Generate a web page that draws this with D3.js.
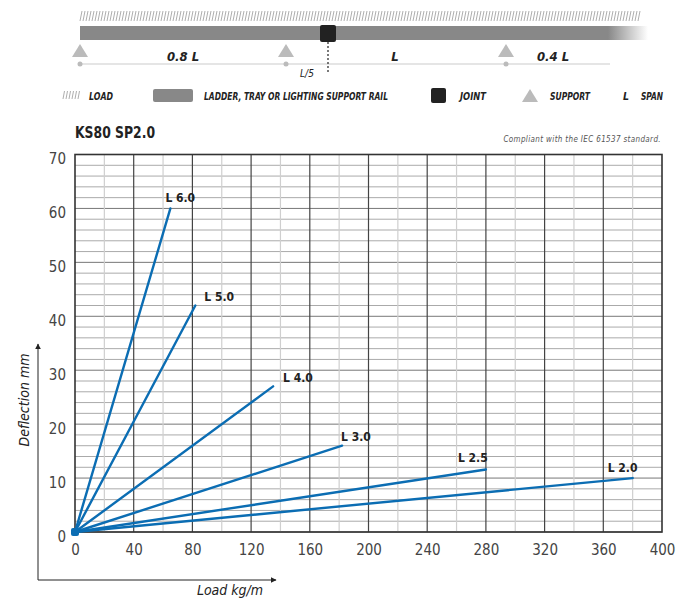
<!DOCTYPE html>
<html>
<head>
<meta charset="utf-8">
<script src="https://cdn.jsdelivr.net/npm/d3@7"></script>
<style>
  body { margin: 0; background: #fff; }
  svg { display: block; }
  text { font-family: "Liberation Sans Narrow", "DejaVu Sans Condensed", "Roboto", sans-serif; }
</style>
</head>
<body>
<svg id="canvas" width="682" height="600"></svg>
<script>
'use strict';

/* span curves: label, end load (kg/m), end deflection (mm) */
const spans = ['L 6.0', 'L 5.0', 'L 4.0', 'L 3.0', 'L 2.5', 'L 2.0'];
const endLoads = [65, 82, 135, 182, 280, 380];
const endDeflections = [60, 42, 27, 16, 11.6, 10];

const xTicks = [0, 40, 80, 120, 160, 200, 240, 280, 320, 360, 400];
const yTicks = [0, 10, 20, 30, 40, 50, 60, 70];

const legendItems = ['LOAD', 'LADDER, TRAY OR LIGHTING SUPPORT RAIL', 'JOINT', 'SUPPORT', 'SPAN'];
const spanTexts = ['0.8 L', 'L', '0.4 L', 'L/5'];

/* label nudges relative to the line end */
const labelShift = [[-5, -6], [9, -5], [10, -4], [-1, -5], [-28, -7], [-25, -6]];

const margin = { top: 154.5, left: 75 };
const blue = '#0b6db3';

const svg = d3.select('#canvas');
const defs = svg.append('defs');

const x = d3.scaleLinear().domain([0, 400]).range([margin.left, 662]);
const y = d3.scaleLinear().domain([0, 70]).range([532, margin.top]);

/* ---------- top schematic ---------- */
const schem = svg.append('g').attr('id', 'schematic');
const sx0 = 80, sx1 = 640;

// load hatch
const hatch = schem.append('g');
for (let hx = sx0; hx <= sx1; hx += 3) {
  hatch.append('line')
    .attr('x1', hx).attr('y1', 21).attr('x2', hx + 2).attr('y2', 11)
    .attr('stroke', '#999').attr('stroke-width', 0.8);
}

// rail with fading end
const grad = defs.append('linearGradient').attr('id', 'fade');
grad.append('stop').attr('offset', '0%').attr('stop-color', '#888').attr('stop-opacity', 1);
grad.append('stop').attr('offset', '100%').attr('stop-color', '#888').attr('stop-opacity', 0);
schem.append('rect').attr('x', sx0).attr('y', 26).attr('width', 528).attr('height', 14)
  .attr('fill', '#888');
schem.append('rect').attr('x', 608).attr('y', 26).attr('width', 40).attr('height', 14)
  .attr('fill', 'url(#fade)');

// dimension line, supports, dots
schem.append('line').attr('x1', sx0).attr('x2', 610).attr('y1', 64).attr('y2', 64)
  .attr('stroke', '#ddd').attr('stroke-width', 1.5);
[80, 286, 506].forEach(px => {
  schem.append('path')
    .attr('d', `M${px - 8},57 L${px},44 L${px + 8},57 Z`)
    .attr('fill', '#bbb');
  schem.append('circle').attr('cx', px).attr('cy', 64).attr('r', 2.5).attr('fill', '#bbb');
});

// joint + dashed marker
schem.append('line').attr('x1', 328).attr('x2', 328).attr('y1', 42).attr('y2', 72)
  .attr('stroke', '#222').attr('stroke-width', 1.2).attr('stroke-dasharray', '2,2');
schem.append('rect').attr('x', 320).attr('y', 25).attr('width', 16).attr('height', 17)
  .attr('rx', 2).attr('fill', '#222');

const spanText = schem.append('g')
  .attr('font-style', 'italic').attr('font-weight', 'bold').attr('fill', '#222')
  .attr('text-anchor', 'middle');
spanText.append('text').attr('x', 183).attr('y', 61).attr('font-size', 13).text(spanTexts[0]);
spanText.append('text').attr('x', 395).attr('y', 61).attr('font-size', 13).text(spanTexts[1]);
spanText.append('text').attr('x', 553).attr('y', 61).attr('font-size', 13).text(spanTexts[2]);
spanText.append('text').attr('x', 307).attr('y', 77).attr('font-size', 10)
  .attr('font-weight', 'normal').text(spanTexts[3]);

// legend
const leg = schem.append('g')
  .attr('font-style', 'italic').attr('font-weight', 'bold').attr('font-size', 10.5)
  .attr('fill', '#222');
for (let hx = 63; hx <= 78; hx += 3) {
  leg.append('line').attr('x1', hx).attr('y1', 99).attr('x2', hx + 1.5).attr('y2', 91)
    .attr('stroke', '#999').attr('stroke-width', 0.8);
}
const legText = (px, str, len) => leg.append('text').attr('x', px).attr('y', 99.5)
  .attr('textLength', len).attr('lengthAdjust', 'spacingAndGlyphs').text(str);
legText(89, legendItems[0], 24);
leg.append('rect').attr('x', 153).attr('y', 89).attr('width', 40).attr('height', 13)
  .attr('rx', 2).attr('fill', '#888');
legText(204, legendItems[1], 184);
leg.append('rect').attr('x', 431).attr('y', 88).attr('width', 15).attr('height', 15)
  .attr('rx', 2).attr('fill', '#222');
legText(460, legendItems[2], 26);
leg.append('path').attr('d', 'M522,102 L530,89 L538,102 Z').attr('fill', '#bbb');
legText(550, legendItems[3], 40);
legText(623, 'L', 6);
legText(641, legendItems[4], 22);

/* ---------- chart titles ---------- */
svg.append('text').attr('x', 75).attr('y', 138)
  .attr('font-size', 15).attr('font-weight', 'bold').attr('fill', '#222')
  .attr('textLength', 80).attr('lengthAdjust', 'spacingAndGlyphs')
  .style('font-family', '"DejaVu Sans Condensed", sans-serif')
  .text('KS80 SP2.0');
svg.append('text').attr('x', 661).attr('y', 142)
  .attr('text-anchor', 'end').attr('font-size', 8).attr('font-style', 'italic')
  .attr('letter-spacing', 0.35).attr('fill', '#555')
  .text('Compliant with the IEC 61537 standard.');

/* ---------- grid ---------- */
const grid = svg.append('g').attr('id', 'grid');
d3.range(0, 71, 2).forEach(v => {
  grid.append('line')
    .attr('x1', x(0)).attr('x2', x(400)).attr('y1', y(v)).attr('y2', y(v))
    .attr('stroke', v % 10 === 0 ? '#777' : '#aaa').attr('stroke-width', 1);
});
d3.range(20, 400, 40).forEach(v => {
  grid.append('line')
    .attr('x1', x(v)).attr('x2', x(v)).attr('y1', y(0)).attr('y2', y(70))
    .attr('stroke', '#cfcfcf').attr('stroke-width', 1.2);
});
xTicks.slice(1, -1).forEach(v => {
  grid.append('line')
    .attr('x1', x(v)).attr('x2', x(v)).attr('y1', y(0)).attr('y2', y(70))
    .attr('stroke', '#444').attr('stroke-width', 1.2);
});
grid.append('rect')
  .attr('x', x(0)).attr('y', y(70)).attr('width', x(400) - x(0)).attr('height', y(0) - y(70))
  .attr('fill', 'none').attr('stroke', '#333').attr('stroke-width', 1.6);

/* ---------- axes ---------- */
const xAxis = d3.axisBottom(x).tickValues(xTicks).tickSize(0).tickPadding(12);
const yAxis = d3.axisLeft(y).tickValues(yTicks).tickSize(0).tickPadding(9);

const gx = svg.append('g').attr('transform', 'translate(0,532)').call(xAxis);
const gy = svg.append('g').attr('transform', 'translate(75,0)').call(yAxis);
[gx, gy].forEach(g => {
  g.select('.domain').remove();
  g.selectAll('text')
    .attr('font-size', 15).attr('fill', '#444')
    .style('font-family', '"Liberation Sans Narrow", "DejaVu Sans Condensed", sans-serif');
});
gy.selectAll('text').attr('dy', '0.62em');

/* arrows */
defs.append('marker').attr('id', 'arrow')
  .attr('viewBox', '0 0 10 10').attr('refX', 9).attr('refY', 5)
  .attr('markerWidth', 6).attr('markerHeight', 6).attr('orient', 'auto-start-reverse')
  .append('path').attr('d', 'M0,0 L10,5 L0,10 Z').attr('fill', '#222');
svg.append('path').attr('d', 'M38,344 L38,580 L276,580')
  .attr('fill', 'none').attr('stroke', '#222').attr('stroke-width', 1)
  .attr('marker-start', 'url(#arrow)').attr('marker-end', 'url(#arrow)');

svg.append('text')
  .attr('transform', 'translate(29,400) rotate(-90)')
  .attr('text-anchor', 'middle').attr('font-size', 14).attr('font-style', 'italic')
  .attr('fill', '#222').text('Deflection mm');
svg.append('text')
  .attr('x', 230).attr('y', 595)
  .attr('text-anchor', 'middle').attr('font-size', 14).attr('font-style', 'italic')
  .attr('fill', '#222').text('Load kg/m');

/* ---------- span lines ---------- */
const lines = svg.append('g').attr('id', 'lines');
spans.forEach((s, i) => {
  lines.append('line')
    .attr('x1', x(0)).attr('y1', y(0))
    .attr('x2', x(endLoads[i])).attr('y2', y(endDeflections[i]))
    .attr('stroke', blue).attr('stroke-width', 2.4).attr('stroke-linecap', 'round');
  lines.append('text')
    .attr('x', x(endLoads[i]) + labelShift[i][0])
    .attr('y', y(endDeflections[i]) + labelShift[i][1])
    .attr('font-size', 12).attr('font-weight', 'bold').attr('fill', '#222')
    .text(s);
});
lines.append('rect').attr('x', x(0) - 4).attr('y', y(0) - 4)
  .attr('width', 8).attr('height', 8).attr('rx', 2).attr('fill', blue);
</script>
</body>
</html>
